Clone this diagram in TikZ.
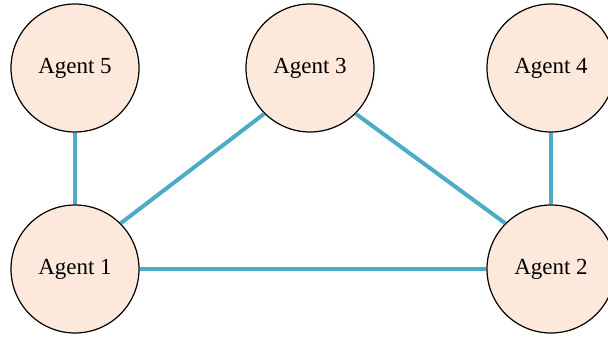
\documentclass[tikz,border=0pt]{standalone}
\usepackage{fontspec}
\setmainfont{Liberation Serif}
\definecolor{agentfill}{HTML}{FCE9DB}
\definecolor{linkblue}{HTML}{4BACC6}
\newcommand{\agentlabel}[1]{\raisebox{-1.5pt}{#1}}
\begin{document}
\begin{tikzpicture}[x=1pt,y=-1pt,
  agent/.style={circle, draw=black, line width=1.2pt, fill=agentfill,
    minimum size=128pt, inner sep=0pt, font=\fontsize{23}{27}\selectfont},
  link/.style={draw=linkblue, line width=4pt}]
  \clip (0,0) rectangle (608,339);
  \useasboundingbox (0,0) rectangle (608,339);
  % agents
  \node[agent] (a5) at (75,68)  {\agentlabel{Agent 5}};
  \node[agent] (a3) at (310,68) {\agentlabel{Agent 3}};
  \node[agent] (a4) at (551,68) {\agentlabel{Agent 4}};
  \node[agent] (a1) at (75,269) {\agentlabel{Agent 1}};
  \node[agent] (a2) at (551,269) {\agentlabel{Agent 2}};
  % links between agents
  \path[link] (a5.south) -- (a1.north);
  \path[link] (a4.south) -- (a2.north);
  \path[link] (a1.east) -- (a2.west);
  \path[link] (a3.225) -- (a1.45);
  \path[link] (a3.-45) -- (a2.135);
\end{tikzpicture}
\end{document}
